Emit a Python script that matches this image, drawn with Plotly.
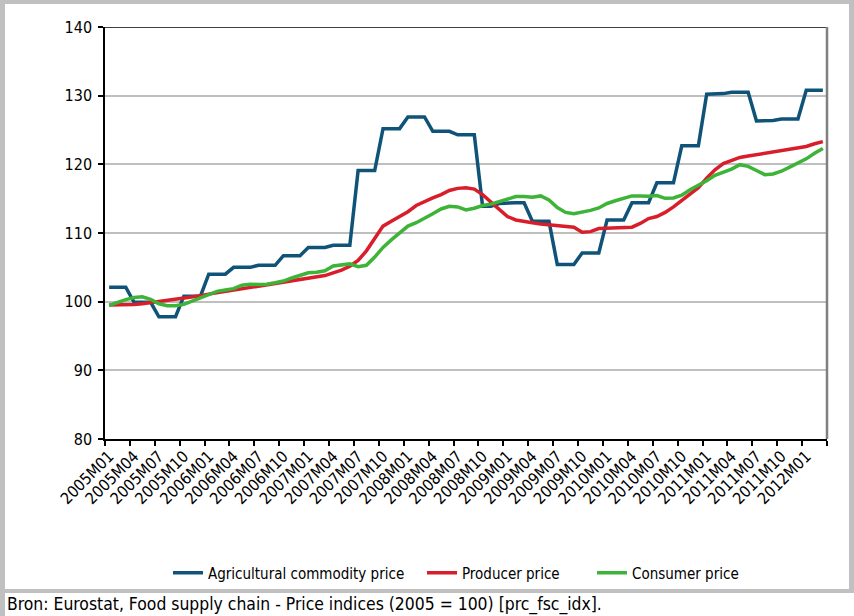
import plotly.graph_objects as go

months = [f"{y}M{m:02d}" for y in range(2005, 2013) for m in range(1, 13)][:87]

agri = [102.1, 102.1, 102.1, 99.9, 99.9, 99.9, 97.8, 97.8, 97.8, 100.8, 100.8, 100.8,
        104.0, 104.0, 104.0, 105.0, 105.0, 105.0, 105.3, 105.3, 105.3, 106.7, 106.7, 106.7,
        107.9, 107.9, 107.9, 108.2, 108.2, 108.2, 119.1, 119.1, 119.1, 125.2, 125.2, 125.2,
        126.9, 126.9, 126.9, 124.8, 124.8, 124.8, 124.3, 124.3, 124.3, 113.9, 113.9, 114.3,
        114.4, 114.4, 114.4, 111.7, 111.7, 111.7, 105.4, 105.4, 105.4, 107.1, 107.1, 107.1,
        111.9, 111.9, 111.9, 114.4, 114.4, 114.4, 117.3, 117.3, 117.3, 122.7, 122.7, 122.7,
        130.2, 130.2, 130.3, 130.5, 130.5, 130.5, 126.3, 126.3, 126.4, 126.6, 126.6, 126.6,
        130.8, 130.8, 130.8]

producer = [99.5, 99.5, 99.55, 99.6, 99.7, 99.85, 100.0, 100.15, 100.3, 100.45, 100.65, 100.85,
            101.1, 101.3, 101.45, 101.6, 101.85, 102.05, 102.3, 102.5, 102.7, 102.85, 103.05, 103.25,
            103.45, 103.6, 103.8, 104.2, 104.6, 105.15, 106.0, 107.4, 109.2, 111.0, 111.7, 112.4,
            113.1, 114.0, 114.6, 115.1, 115.6, 116.2, 116.5, 116.6, 116.4, 115.6, 114.5, 113.5,
            112.4, 111.9, 111.65, 111.5, 111.3, 111.2, 111.1, 111.0, 110.85, 110.1, 110.2, 110.65,
            110.7, 110.75, 110.75, 110.85, 111.4, 112.1, 112.4, 113.0, 113.8, 114.7, 115.6, 116.6,
            118.0, 119.2, 120.1, 120.6, 121.0, 121.2, 121.4, 121.6, 121.8, 122.0, 122.25, 122.4,
            122.6, 123.0, 123.3]

consumer = [99.45, 99.9, 100.3, 100.6, 100.7, 100.35, 99.7, 99.4, 99.4, 99.6, 100.1, 100.6,
            101.1, 101.5, 101.7, 101.9, 102.4, 102.55, 102.5, 102.55, 102.75, 103.0, 103.45, 103.8,
            104.2, 104.3, 104.5, 105.2, 105.4, 105.5, 105.1, 105.3, 106.5, 107.9, 109.0, 110.0,
            111.0, 111.5, 112.1, 112.8, 113.5, 113.9, 113.8, 113.35, 113.6, 114.0, 114.2, 114.6,
            115.0, 115.3, 115.3, 115.2, 115.4, 114.8, 113.7, 113.0, 112.8, 113.0, 113.3, 113.65,
            114.3, 114.7, 115.0, 115.4, 115.4, 115.35, 115.45, 115.05, 115.1, 115.5, 116.3, 116.9,
            117.6, 118.4, 118.9, 119.3, 119.95, 119.7, 119.1, 118.5, 118.6, 119.0, 119.6, 120.2,
            120.8, 121.6, 122.3]

series_names = ["Agricultural commodity price", "Producer price", "Consumer price"]
colors = ["#0f5478", "#d91e2b", "#3db337"]
legend_ids = ["legend", "legend2", "legend3"]

FONT = "DejaVu Sans Condensed, Liberation Sans Narrow, Arial Narrow, sans-serif"

fig = go.Figure()
for name, vals, col, lg in zip(series_names, [agri, producer, consumer], colors, legend_ids):
    fig.add_trace(go.Scatter(x=months, y=vals, mode="lines", name=name, legend=lg,
                             line=dict(color=col, width=3.5)))

W, H = 854, 616
L, R, T, B = 105, 27, 27, 177
pw, ph = W - L - R, H - T - B


def px(x):
    return (x - L) / pw


def py(y):
    return (H - B - y) / ph


gray = "#c0c0c0"
shapes = [
    dict(type="rect", xref="paper", yref="paper", x0=px(0), x1=px(5), y0=py(0), y1=py(616),
         fillcolor=gray, line=dict(width=0), layer="above"),
    dict(type="rect", xref="paper", yref="paper", x0=px(0), x1=px(854), y0=py(0), y1=py(4),
         fillcolor=gray, line=dict(width=0), layer="above"),
    dict(type="rect", xref="paper", yref="paper", x0=px(0), x1=px(854), y0=py(589), y1=py(593),
         fillcolor=gray, line=dict(width=0), layer="above"),
    dict(type="rect", xref="paper", yref="paper", x0=px(849), x1=px(854), y0=py(0), y1=py(593),
         fillcolor=gray, line=dict(width=0), layer="above"),
    dict(type="line", xref="paper", yref="y", x0=0, x1=1, y0=140, y1=140,
         line=dict(color="black", width=1.5), layer="above"),
    dict(type="line", xref="paper", yref="paper", x0=1, x1=1, y0=0, y1=1,
         line=dict(color="#808080", width=2.5), layer="above"),
]


def legend_at(text_x):
    return dict(orientation="h", x=px(text_x - 40), xanchor="left", y=py(573), yanchor="middle",
                font=dict(family=FONT, size=15), itemwidth=30, bgcolor="rgba(0,0,0,0)")


fig.update_layout(
    width=W, height=H,
    margin=dict(l=L, r=R, t=T, b=B, pad=0),
    paper_bgcolor="white", plot_bgcolor="white",
    font=dict(family=FONT, size=15, color="black"),
    showlegend=True,
    legend=legend_at(208),
    legend2=legend_at(462),
    legend3=legend_at(632),
    xaxis=dict(type="category", range=[-0.5, 86.5], tickmode="linear", tick0=0, dtick=3,
               tickson="boundaries", ticks="outside", ticklen=5, tickwidth=1.5, tickcolor="black",
               showline=True, linecolor="black", linewidth=1.5, showgrid=False, tickangle=-45,
               tickfont=dict(family=FONT, size=16), automargin=False),
    yaxis=dict(range=[80, 140], tickmode="linear", tick0=80, dtick=10, showgrid=True,
               gridcolor="#bfbfbf", gridwidth=1.5, zeroline=False, showline=True,
               linecolor="black", linewidth=1.5, ticks="outside", ticklen=5, tickwidth=1.5,
               tickcolor="black", tickfont=dict(family=FONT, size=16), ticklabelstandoff=3,
               automargin=False),
    shapes=shapes,
    annotations=[dict(text="Bron: Eurostat, Food supply chain - Price indices (2005 = 100) [prc_fsc_idx].",
                      xref="paper", yref="paper", x=px(5), y=py(604), xanchor="left", yanchor="middle",
                      showarrow=False, font=dict(family=FONT, size=17.4, color="black"))],
)

fig.write_html("out.html", config={"displayModeBar": False},
               post_script="document.body.style.margin='0px';document.body.style.overflow='hidden';")
